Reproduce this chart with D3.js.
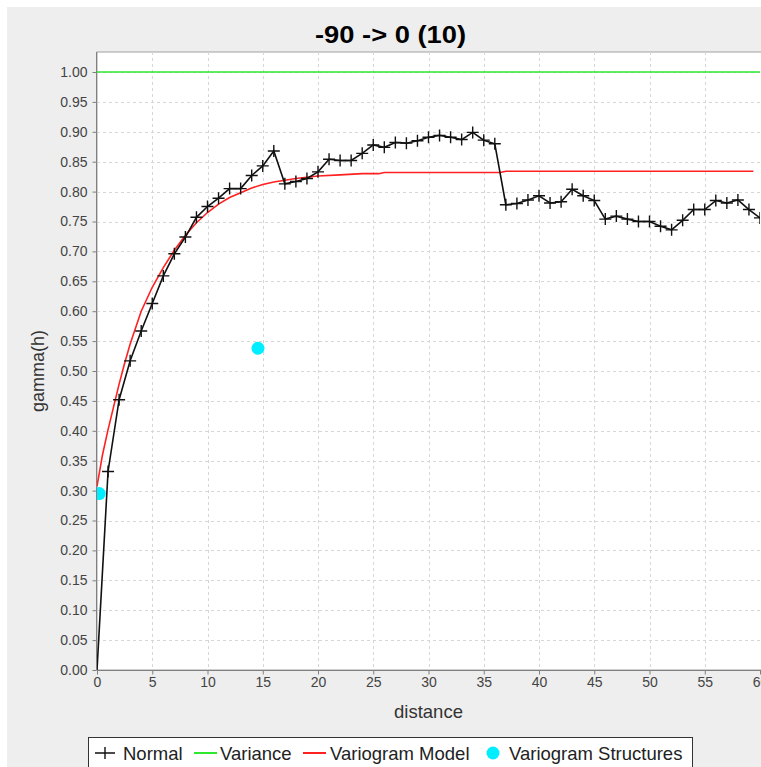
<!DOCTYPE html>
<html>
<head>
<meta charset="utf-8">
<script src="https://cdn.jsdelivr.net/npm/d3@7/dist/d3.min.js"></script>
<style>
  html, body { margin: 0; padding: 0; background: #ffffff; }
  svg { display: block; }
</style>
</head>
<body>
<svg id="chart" width="761" height="767"></svg>
<script>
// ---------------- DATA ----------------
const chartTitle = "-90 -> 0 (10)";
const xLabel = "distance";
const yLabel = "gamma(h)";

const xTicks = [0, 5, 10, 15, 20, 25, 30, 35, 40, 45, 50, 55, 60];
const yTicks = [0.00, 0.05, 0.10, 0.15, 0.20, 0.25, 0.30, 0.35, 0.40, 0.45, 0.50,
                0.55, 0.60, 0.65, 0.70, 0.75, 0.80, 0.85, 0.90, 0.95, 1.00];

// "Normal" experimental variogram
const normalDist = [0, 1, 2, 3, 4, 5, 6, 7, 8, 9, 10, 11, 12, 13, 14, 15, 16, 17, 18, 19,
                    20, 21, 22, 23, 24, 25, 26, 27, 28, 29, 30, 31, 32, 33, 34, 35, 36, 37, 38, 39,
                    40, 41, 42, 43, 44, 45, 46, 47, 48, 49, 50, 51, 52, 53, 54, 55, 56, 57, 58, 59, 60];
const normalGamma = [0.000, 0.332, 0.452, 0.517, 0.567, 0.613, 0.659, 0.696, 0.724, 0.757,
                     0.775, 0.789, 0.805, 0.805, 0.827, 0.843, 0.868, 0.813, 0.817, 0.822,
                     0.833, 0.854, 0.852, 0.852, 0.864, 0.878, 0.874, 0.882, 0.881, 0.885,
                     0.891, 0.894, 0.891, 0.887, 0.899, 0.886, 0.880, 0.778, 0.780, 0.786,
                     0.793, 0.781, 0.783, 0.804, 0.793, 0.785, 0.754, 0.759, 0.754, 0.750,
                     0.750, 0.742, 0.736, 0.752, 0.770, 0.770, 0.785, 0.781, 0.786, 0.770, 0.756];

// Variance
const varianceDist = [0, 60];
const varianceGamma = [1.0, 1.0];

// Variogram model
const modelDist = [0, 0.5, 1, 1.5, 2, 2.5, 3, 4, 5, 6, 7, 8, 9, 10, 11, 12, 13, 14, 15, 16,
                   17, 18, 19, 20, 22, 24, 25.5, 26, 30, 36.5, 37, 45, 59.4];
const modelGamma = [0.307, 0.360, 0.402, 0.440, 0.478, 0.513, 0.545, 0.600, 0.640, 0.673,
                    0.702, 0.727, 0.748, 0.765, 0.779, 0.790, 0.798, 0.806, 0.812, 0.816,
                    0.819, 0.822, 0.824, 0.826, 0.828, 0.830, 0.830, 0.832, 0.832, 0.832,
                    0.834, 0.834, 0.834];

// Variogram structures
const structDist = [0.2, 14.57];
const structGamma = [0.295, 0.538];

const legendItems = ["Normal", "Variance", "Variogram Model", "Variogram Structures"];

// ---------------- LAYOUT ----------------
const svg = d3.select("#chart");
const W = 761, H = 767;
const plot = { left: 97, right: 760, top: 52, bottom: 670 };

const x = d3.scaleLinear().domain([0, 60]).range([plot.left, plot.right]);
const y = d3.scaleLinear().domain([0, 1]).range([plot.bottom, 72]);

const colNormal = "#111111", colVar = "#2ee82e", colModel = "#ff2020", colStruct = "#00eeff";
const font = "'Liberation Sans', Arial, sans-serif";

// background
svg.append("rect").attr("x", 0).attr("y", 0).attr("width", W).attr("height", H).attr("fill", "#ffffff");
svg.append("rect").attr("x", 7).attr("y", 7).attr("width", W).attr("height", H).attr("fill", "#eeeeee");

// title
svg.append("text")
  .attr("x", 390.5).attr("y", 43)
  .attr("text-anchor", "middle")
  .attr("font-family", font).attr("font-weight", "bold").attr("font-size", 24)
  .attr("textLength", 151).attr("lengthAdjust", "spacingAndGlyphs")
  .attr("fill", "#000").text(chartTitle);

// plot background
svg.append("rect")
  .attr("x", plot.left).attr("y", plot.top)
  .attr("width", plot.right - plot.left + 10).attr("height", plot.bottom - plot.top)
  .attr("fill", "#ffffff").attr("stroke", "#a0a0a0").attr("stroke-width", 1);

// gridlines
const grid = svg.append("g");
grid.selectAll("line.gx").data(xTicks.filter(t => t > 0 && t < 60)).enter().append("line")
  .attr("x1", d => Math.round(x(d)) + 0.5).attr("x2", d => Math.round(x(d)) + 0.5)
  .attr("y1", plot.top).attr("y2", plot.bottom)
  .attr("stroke", "#d6d6d6").attr("stroke-width", 1).attr("stroke-dasharray", "3,3");
grid.selectAll("line.gy").data(yTicks.filter(t => t > 0)).enter().append("line")
  .attr("y1", d => Math.round(y(d)) + 0.5).attr("y2", d => Math.round(y(d)) + 0.5)
  .attr("x1", plot.left).attr("x2", plot.right + 10)
  .attr("stroke", "#d6d6d6").attr("stroke-width", 1).attr("stroke-dasharray", "3,3");

// axes
const xAxis = d3.axisBottom(x).tickValues(xTicks).tickFormat(d3.format("d")).tickSizeInner(4).tickSizeOuter(0).tickPadding(3);
const yAxis = d3.axisLeft(y).tickValues(yTicks).tickFormat(d3.format(".2f")).tickSizeInner(4).tickSizeOuter(0).tickPadding(5);

const gx = svg.append("g").attr("transform", `translate(0,${plot.bottom + 0.5})`).call(xAxis);
const gy = svg.append("g").attr("transform", `translate(${plot.left - 0.5},0)`).call(yAxis);
[gx, gy].forEach(g => {
  g.select(".domain").attr("stroke", "#808080");
  g.selectAll(".tick line").attr("stroke", "#808080");
  g.selectAll(".tick text").attr("font-family", font).attr("font-size", 14).attr("fill", "#444444");
});
gx.select(".domain").attr("d", `M${plot.left},0H${plot.right + 10}`);
gy.select(".domain").attr("d", `M0,${plot.top}V${plot.bottom}`);

// axis labels
svg.append("text").attr("x", (plot.left + plot.right) / 2).attr("y", 718)
  .attr("text-anchor", "middle").attr("font-family", font).attr("font-size", 18.5)
  .attr("fill", "#333").text(xLabel);
svg.append("text").attr("transform", `translate(44,${y(0.5)}) rotate(-90)`)
  .attr("text-anchor", "middle").attr("font-family", font).attr("font-size", 18)
  .attr("fill", "#333").text(yLabel);

// clip
svg.append("clipPath").attr("id", "clip").append("rect")
  .attr("x", plot.left).attr("y", plot.top)
  .attr("width", plot.right - plot.left).attr("height", plot.bottom - plot.top);
const g = svg.append("g").attr("clip-path", "url(#clip)");

const line = d3.line().x(d => x(d[0])).y(d => y(d[1]));

// variance
g.append("path").datum(varianceDist.map((d, i) => [d, varianceGamma[i]]))
  .attr("d", line).attr("fill", "none").attr("stroke", colVar).attr("stroke-width", 1.5);

// model
g.append("path").datum(modelDist.map((d, i) => [d, modelGamma[i]]))
  .attr("d", line).attr("fill", "none").attr("stroke", colModel).attr("stroke-width", 1.6);

// normal
const normalData = normalDist.map((d, i) => [d, normalGamma[i]]);
g.append("path").datum(normalData)
  .attr("d", line).attr("fill", "none").attr("stroke", colNormal).attr("stroke-width", 1.6);
const crossPath = "M-6,0H6M0,-6V6";
g.selectAll("path.cross").data(normalData.slice(1)).enter().append("path")
  .attr("class", "cross")
  .attr("transform", d => `translate(${x(d[0])},${y(d[1])})`)
  .attr("d", crossPath).attr("stroke", colNormal).attr("stroke-width", 1.4).attr("fill", "none");

// structures
g.selectAll("circle.st").data(structDist.map((d, i) => [d, structGamma[i]])).enter().append("circle")
  .attr("cx", d => x(d[0])).attr("cy", d => y(d[1])).attr("r", 6.5).attr("fill", colStruct);

// legend
const lg = svg.append("g");
lg.append("rect").attr("x", 88.5).attr("y", 737.5).attr("width", 604).attr("height", 40)
  .attr("fill", "#ffffff").attr("stroke", "#333333").attr("stroke-width", 1);
const ly = 753;
const textY = 759.5;
// Normal
lg.append("path").attr("d", `M95,${ly}H115M105,${ly - 6}V${ly + 6}`).attr("stroke", colNormal).attr("stroke-width", 1.4);
lg.append("text").attr("x", 123).attr("y", textY).attr("font-family", font).attr("font-size", 18.5).attr("fill", "#222").text(legendItems[0]);
// Variance
lg.append("line").attr("x1", 194).attr("x2", 217).attr("y1", ly).attr("y2", ly).attr("stroke", colVar).attr("stroke-width", 2);
lg.append("text").attr("x", 220).attr("y", textY).attr("font-family", font).attr("font-size", 18.5).attr("fill", "#222").text(legendItems[1]);
// Model
lg.append("line").attr("x1", 303).attr("x2", 326).attr("y1", ly).attr("y2", ly).attr("stroke", colModel).attr("stroke-width", 2);
lg.append("text").attr("x", 330).attr("y", textY).attr("font-family", font).attr("font-size", 18.5).attr("fill", "#222").text(legendItems[2]);
// Structures
lg.append("circle").attr("cx", 493).attr("cy", ly).attr("r", 6.5).attr("fill", colStruct);
lg.append("text").attr("x", 509).attr("y", textY).attr("font-family", font).attr("font-size", 18.5).attr("fill", "#222").text(legendItems[3]);
</script>
</body>
</html>
